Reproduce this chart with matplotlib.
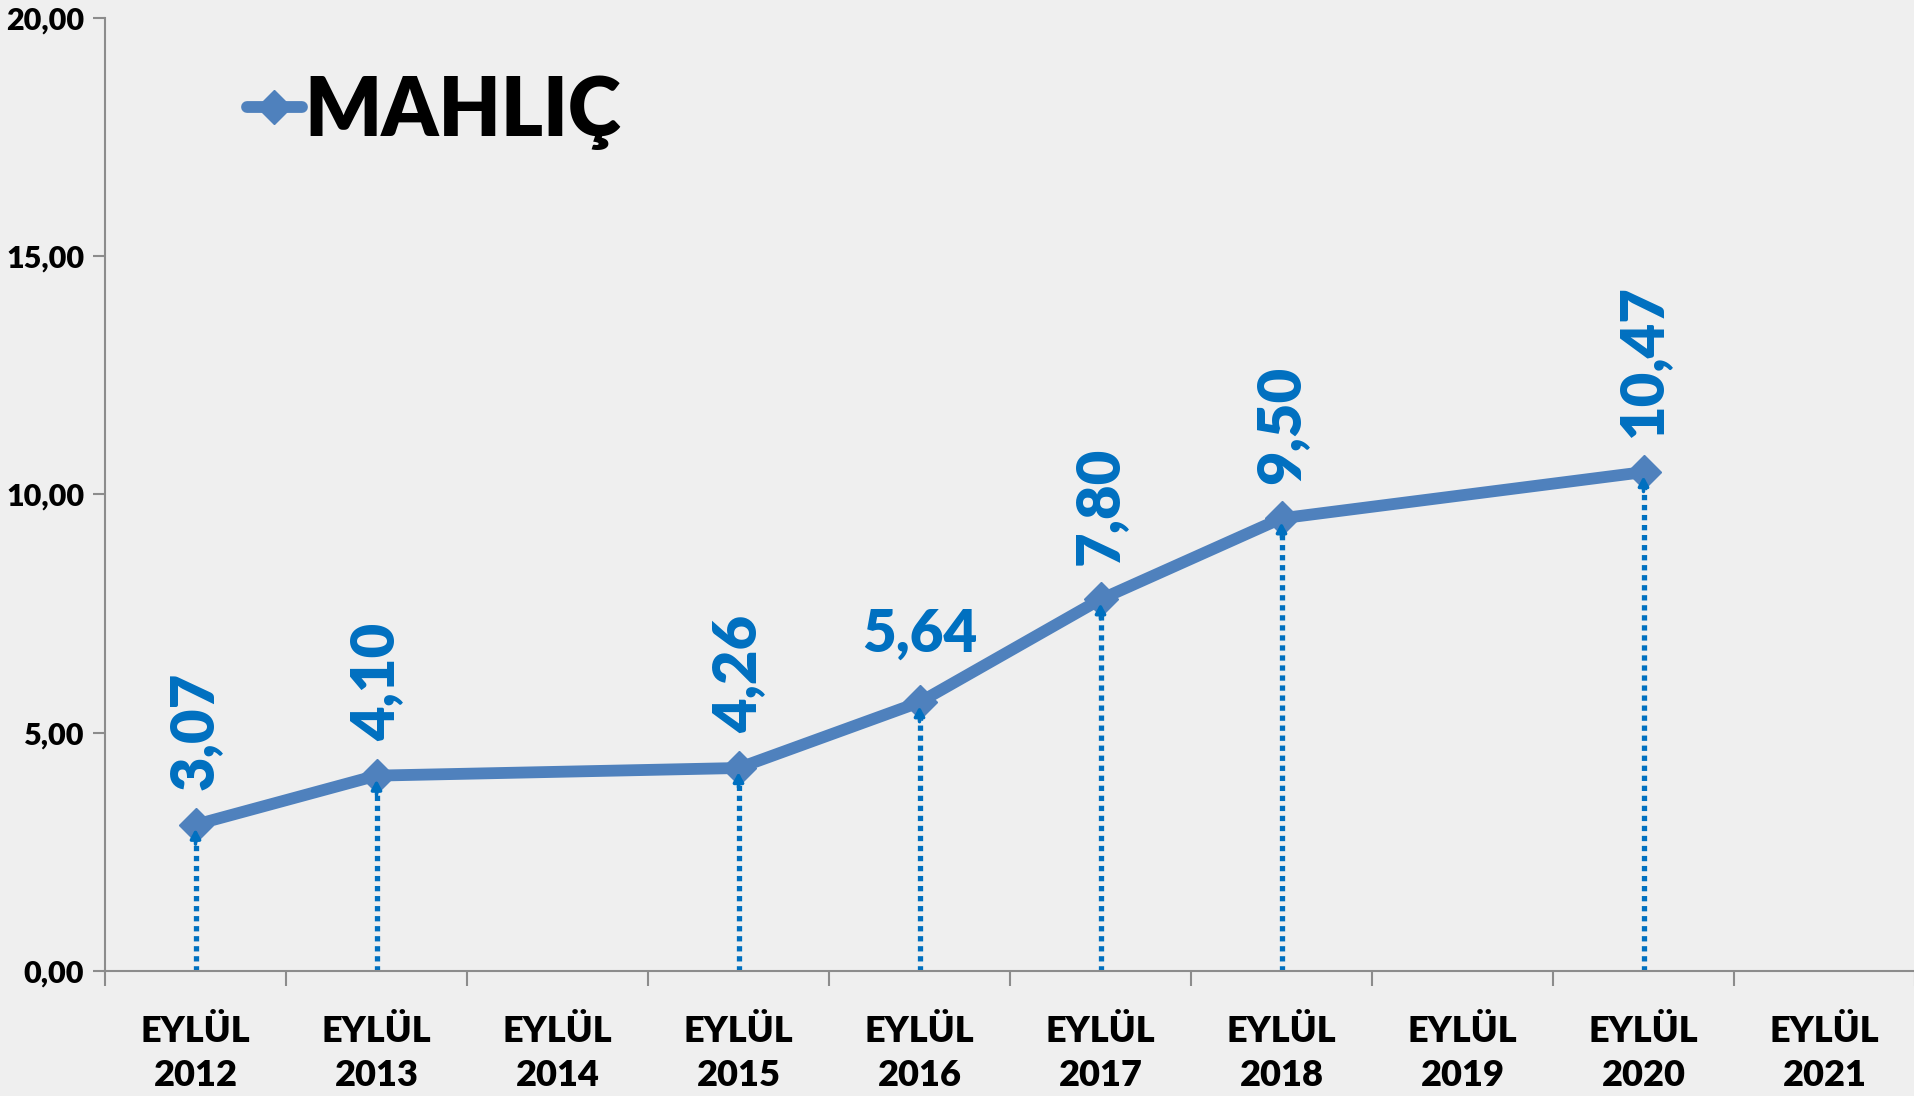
import matplotlib.pyplot as plt
import numpy as np

years = ['2012', '2013', '2014', '2015', '2016', '2017', '2018', '2019', '2020', '2021']
values = [3.07, 4.10, None, 4.26, 5.64, 7.80, 9.50, None, 10.47, None]
labels = ['3,07', '4,10', '', '4,26', '5,64', '7,80', '9,50', '', '10,47', '']
rotated = [True, True, False, True, False, True, True, False, True, False]
series_name = 'MAHLIÇ'
yticks = [0, 5, 10, 15, 20]

LINE = '#4F81BD'
LBL = '#0070C0'
AXC = '#8C8C8C'
W = 'heavy'

plt.rcParams['font.family'] = ['Lato', 'DejaVu Sans']
plt.rcParams['font.weight'] = 'bold'

fig = plt.figure(figsize=(19.15, 10.96), dpi=100, facecolor='#EFEFEF')
ax = fig.add_axes([105 / 1915, 1 - 971 / 1096, 1 - 105 / 1915, (971 - 18) / 1096])
ax.set_facecolor('none')

xs = [i for i, v in enumerate(values) if v is not None]
ys = [v for v in values if v is not None]

# dotted drop lines with small arrow heads
ax.vlines(xs, 0, ys, colors=LBL, linewidth=3.8, linestyles=(0, (1, 0.9)), zorder=2)
for x, y in zip(xs, ys):
    ax.annotate('', xy=(x, y), xycoords='data', xytext=(0, -14), textcoords='offset points',
                arrowprops=dict(arrowstyle='-|>,head_length=0.55,head_width=0.3', color=LBL,
                                lw=2.5, shrinkA=0, shrinkB=3), zorder=5)

ax.plot(xs, ys, color=LINE, linewidth=8.5, marker='D', markersize=17,
        solid_capstyle='round', solid_joinstyle='round', zorder=3, label=series_name)

for i, v in enumerate(values):
    if v is None:
        continue
    if rotated[i]:
        ax.annotate(labels[i], (i, v), xytext=(0, 25), textcoords='offset points',
                    rotation=90, ha='center', va='bottom', color=LBL, fontsize=43,
                    fontweight=W)
    else:
        ax.annotate(labels[i], (i, v), xytext=(0, 30), textcoords='offset points',
                    ha='center', va='bottom', color=LBL, fontsize=42, fontweight=W)

ax.set_xlim(-0.5, len(years) - 0.5)
ax.set_ylim(0, 20)
ax.set_xticks(range(len(years)))
ax.set_xticklabels(['EYLÜL\n' + y for y in years], fontsize=26, fontweight=W,
                   linespacing=1.4)
ax.set_xticks(np.arange(-0.5, len(years), 1), minor=True)
ax.tick_params(axis='x', which='major', length=0, pad=32)
ax.tick_params(axis='x', which='minor', length=11, width=1.5, color=AXC, direction='out')

ax.set_yticks(yticks)
ax.set_yticklabels([('%.2f' % t).replace('.', ',') for t in yticks], fontsize=22, fontweight=W)
ax.tick_params(axis='y', length=9, width=1.5, color=AXC, direction='out', pad=6)

for s in ['top', 'right']:
    ax.spines[s].set_visible(False)
for s in ['left', 'bottom']:
    ax.spines[s].set_color(AXC)
    ax.spines[s].set_linewidth(1.5)

leg = fig.legend(loc='center left', bbox_to_anchor=(247 / 1915, 1 - 112 / 1096),
                 frameon=False, fontsize=58, handlelength=0.68, handletextpad=0.03,
                 borderpad=0, borderaxespad=0, numpoints=1)
for t in leg.get_texts():
    t.set_fontweight(W)

fig.savefig('out.png', dpi=100, facecolor=fig.get_facecolor())
